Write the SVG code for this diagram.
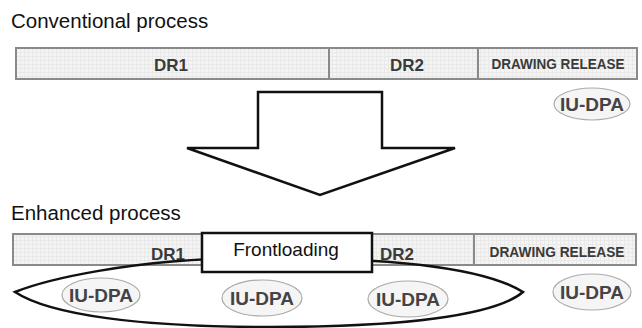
<svg xmlns="http://www.w3.org/2000/svg" width="642" height="328" viewBox="0 0 642 328">
<defs>
<pattern id="grid" width="4" height="4" patternUnits="userSpaceOnUse">
<rect width="4" height="4" fill="#f4f4f4"/>
<path d="M0,0.5H4M0.5,0V4" stroke="#e9e9e9" stroke-width="1"/>
</pattern>
</defs>
<style>
.title{font-family:"Liberation Sans",Arial,sans-serif;font-size:20.5px;fill:#111}
.bar{fill:url(#grid);stroke:#8a8a8a;stroke-width:2}
.div{stroke:#8a8a8a;stroke-width:2}
.lbl{font-family:"Liberation Sans",Arial,sans-serif;font-size:17px;font-weight:bold;fill:#3a3a3a;text-anchor:middle}
.rel{font-family:"Liberation Sans",Arial,sans-serif;font-size:15px;font-weight:bold;fill:#3a3a3a;text-anchor:middle}
.iu{fill:#f5f5f5;stroke:#aaaaaa;stroke-width:1.2}
.iut{font-family:"Liberation Sans",Arial,sans-serif;font-size:19px;font-weight:bold;fill:#444;text-anchor:middle}
.blk{fill:#fff;stroke:#111;stroke-width:2.5}
.fl{font-family:"Liberation Sans",Arial,sans-serif;font-size:19px;fill:#111;text-anchor:middle}
</style>
<rect width="642" height="328" fill="#fff"/>
<g id="conventional">
<text class="title" x="11" y="28">Conventional process</text>
<rect class="bar" x="16" y="48" width="621" height="31"/>
<line class="div" x1="329" y1="48" x2="329" y2="79"/>
<line class="div" x1="478" y1="48" x2="478" y2="79"/>
<text class="lbl" x="171" y="71">DR1</text>
<text class="lbl" x="407" y="71">DR2</text>
<text class="rel" x="558" y="69" textLength="133" lengthAdjust="spacingAndGlyphs">DRAWING RELEASE</text>
</g>
<g id="iu-dpa-top">
<ellipse class="iu" cx="592" cy="104" rx="38" ry="16"/>
<text class="iut" x="592" y="111" textLength="64" lengthAdjust="spacingAndGlyphs">IU-DPA</text>
</g>
<g id="arrow">
<polygon class="blk" points="258,92 382,92 382,148 455,148 320,195 187,148 258,148"/>
</g>
<g id="enhanced">
<text class="title" x="11" y="220">Enhanced process</text>
<rect class="bar" x="13" y="234" width="623" height="31"/>
<line class="div" x1="474" y1="234" x2="474" y2="265"/>
<text class="lbl" x="168" y="260">DR1</text>
<text class="lbl" x="397" y="260">DR2</text>
<text class="rel" x="557" y="257" textLength="135" lengthAdjust="spacingAndGlyphs">DRAWING RELEASE</text>
</g>
<g id="connectors">
<path d="M15,292 C45,280 130,259 250,258 C370,257 480,265 523,292 C495,316 400,327 270,327 C140,327 50,315 15,292 Z" fill="none" stroke="#111" stroke-width="2.5"/>
</g>
<g id="frontloading">
<rect class="blk" x="202" y="233" width="170" height="39"/>
<text class="fl" x="286" y="256">Frontloading</text>
</g>
<g id="iu-dpa-1">
<ellipse class="iu" cx="101" cy="295" rx="39" ry="17"/>
<text class="iut" x="101" y="302" textLength="64" lengthAdjust="spacingAndGlyphs">IU-DPA</text>
</g>
<g id="iu-dpa-2">
<ellipse class="iu" cx="262" cy="298" rx="40" ry="18"/>
<text class="iut" x="262" y="305" textLength="64" lengthAdjust="spacingAndGlyphs">IU-DPA</text>
</g>
<g id="iu-dpa-3">
<ellipse class="iu" cx="408" cy="299" rx="40" ry="18"/>
<text class="iut" x="408" y="306" textLength="64" lengthAdjust="spacingAndGlyphs">IU-DPA</text>
</g>
<g id="iu-dpa-4">
<ellipse class="iu" cx="592" cy="292" rx="39" ry="18"/>
<text class="iut" x="592" y="299" textLength="64" lengthAdjust="spacingAndGlyphs">IU-DPA</text>
</g>
</svg>
